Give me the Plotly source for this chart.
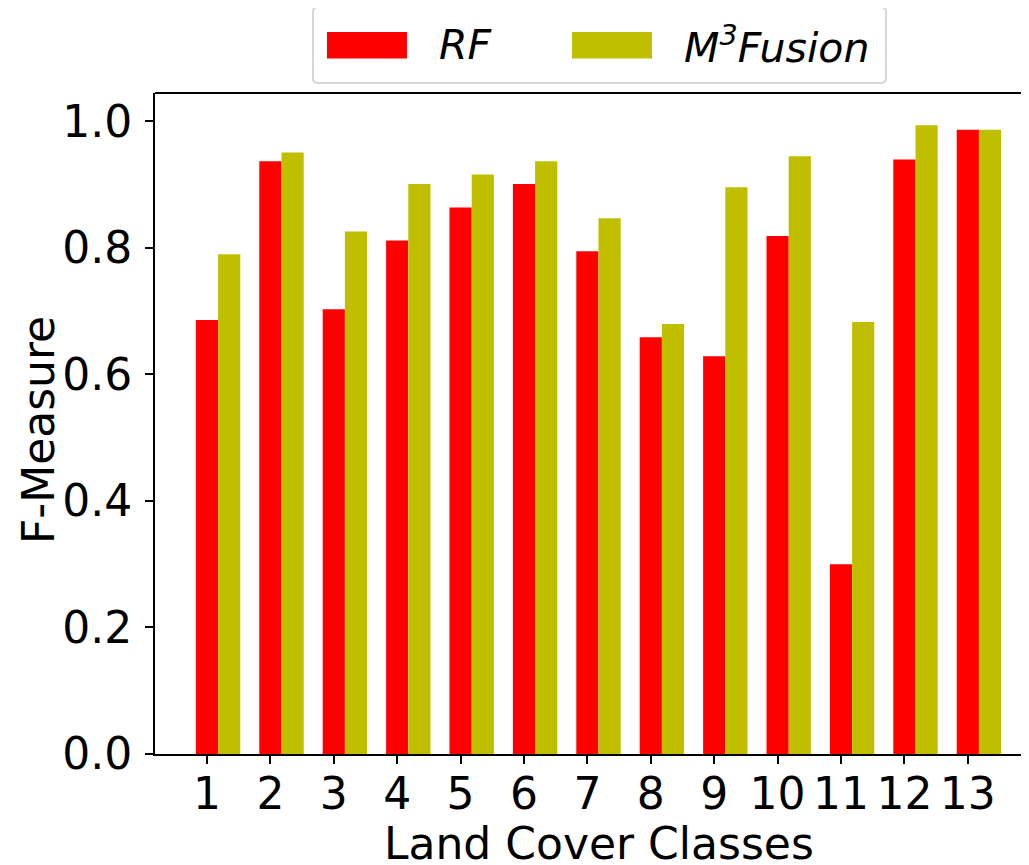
import plotly.graph_objects as go

classes = list(range(1, 14))
rf = [0.686, 0.937, 0.703, 0.812, 0.864, 0.901, 0.795, 0.659, 0.629, 0.819, 0.300, 0.940, 0.987]
m3fusion = [0.790, 0.951, 0.826, 0.901, 0.916, 0.937, 0.847, 0.680, 0.896, 0.945, 0.683, 0.994, 0.987]
yticks = [0.0, 0.2, 0.4, 0.6, 0.8, 1.0]

OFF = 8  # page body margin
W, H = 1029 - OFF, 865 - OFF
# plot area in page pixels: x 155..1029, y 93..754
L, T = 155 - OFF, 93 - OFF
R = 0
B = H - (754 - OFF)
PW, PH = W - L - R, H - T - B

def px(x):
    return (x - 155) / PW

def py(y):
    return (754 - y) / PH

FONT = "DejaVu Sans"
FS = 44
TFS = 44
LFS = 41
BW = 0.35

fig = go.Figure()
fig.add_trace(go.Bar(x=classes, y=rf, name="RF", width=BW, offset=-BW / 2,
                     marker=dict(color="#ff0000", line=dict(width=0))))
fig.add_trace(go.Bar(x=classes, y=m3fusion, name="M3Fusion", width=BW, offset=BW / 2,
                     marker=dict(color="#bfbf00", line=dict(width=0))))

fig.update_layout(
    width=W, height=H,
    margin=dict(l=L, r=R, t=T, b=B, pad=0),
    barmode="overlay",
    showlegend=False,
    plot_bgcolor="white", paper_bgcolor="white",
    font=dict(family=FONT, size=FS, color="black"),
)
fig.update_xaxes(range=[0.18, 13.965], tickmode="array", tickvals=classes,
                 ticktext=[str(c) for c in classes],
                 showline=True, linecolor="black", linewidth=2, mirror=False,
                 ticks="outside", ticklen=8, tickwidth=2, tickcolor="black",
                 ticklabelstandoff=-8,
                 showgrid=False, zeroline=False, tickfont=dict(size=TFS))
fig.update_yaxes(range=[0, 1.045], tickmode="array", tickvals=yticks,
                 ticktext=[f"{v:.1f}" for v in yticks],
                 showline=True, linecolor="black", linewidth=2, mirror=False,
                 ticks="outside", ticklen=8, tickwidth=2, tickcolor="black",
                 ticklabelstandoff=4,
                 showgrid=False, zeroline=False, tickfont=dict(size=TFS))

# rounded legend frame (page pixels -> paper)
bx0, bx1, by0, by1, rr = 313, 886, 7, 83, 5
def P(x, y):
    return f"{px(x):.5f},{py(y):.5f}"
frame = (f"M {P(bx0 + rr, by0)} L {P(bx1 - rr, by0)} Q {P(bx1, by0)} {P(bx1, by0 + rr)} "
         f"L {P(bx1, by1 - rr)} Q {P(bx1, by1)} {P(bx1 - rr, by1)} "
         f"L {P(bx0 + rr, by1)} Q {P(bx0, by1)} {P(bx0, by1 - rr)} "
         f"L {P(bx0, by0 + rr)} Q {P(bx0, by0)} {P(bx0 + rr, by0)} Z")

shapes = [
    # top spine
    dict(type="line", xref="paper", yref="paper", x0=0, x1=1, y0=1, y1=1,
         line=dict(color="black", width=2)),
    # legend box
    dict(type="path", xref="paper", yref="paper", path=frame,
         line=dict(color="#d6d6d6", width=2), fillcolor="white"),
    dict(type="rect", xref="paper", yref="paper", x0=px(327), x1=px(407), y0=py(58.5), y1=py(32),
         line=dict(width=0), fillcolor="#ff0000"),
    dict(type="rect", xref="paper", yref="paper", x0=px(572), x1=px(652), y0=py(58.5), y1=py(32),
         line=dict(width=0), fillcolor="#bfbf00"),
]
fig.update_layout(shapes=shapes)

annotations = [
    dict(text="<i>RF</i>", xref="paper", yref="paper", x=px(437), y=py(45),
         xanchor="left", yanchor="middle", showarrow=False, font=dict(size=LFS)),
    dict(text="<i>M<sup>3</sup>Fusion</i>", xref="paper", yref="paper", x=px(682), y=py(45),
         xanchor="left", yanchor="middle", showarrow=False, font=dict(size=LFS)),
    dict(text="Land Cover Classes", xref="paper", yref="paper", x=px(599), y=py(843),
         xanchor="center", yanchor="middle", showarrow=False, font=dict(size=FS)),
    dict(text="F-Measure", xref="paper", yref="paper", x=px(38), y=py(430),
         xanchor="center", yanchor="middle", textangle=-90, showarrow=False, font=dict(size=FS)),
]
fig.update_layout(annotations=annotations)

fig.write_html("out.html")
